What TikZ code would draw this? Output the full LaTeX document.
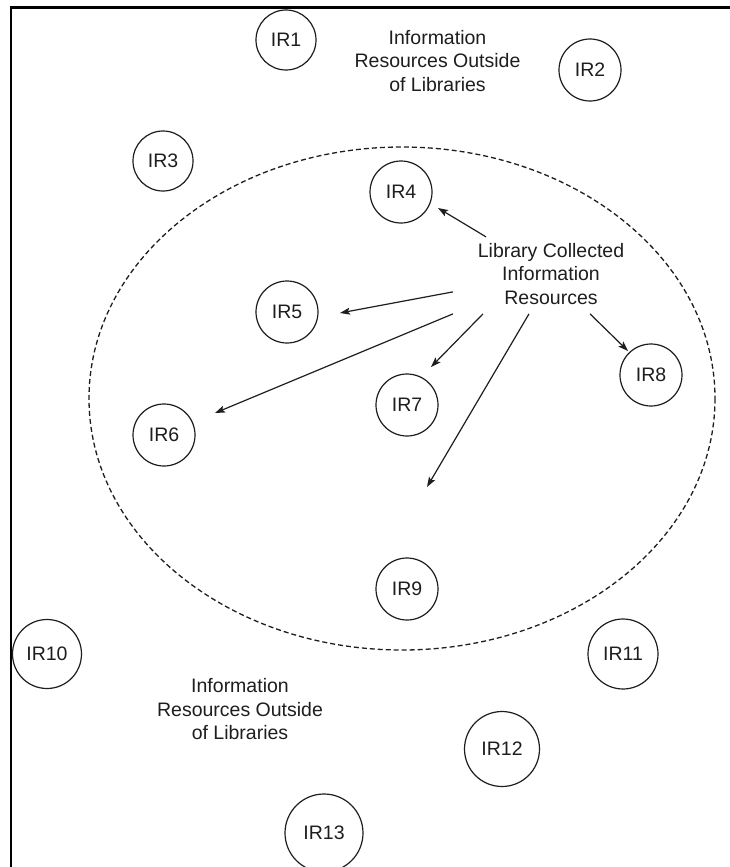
\documentclass[tikz,border=0pt]{standalone}
\usepackage{fontspec}
\setmainfont{Liberation Sans}
\usetikzlibrary{calc,arrows.meta}
\definecolor{ink}{HTML}{1E1E1E}
\tikzset{
  res/.style={circle,draw=ink,line width=1.2pt,inner sep=0pt,minimum size=#1,
    text=ink,font=\fontsize{19.5}{23.5}\selectfont},
  res/.default=62pt,
  caption/.style={align=center,inner sep=0pt,text=ink,
    font=\fontsize{19.5}{23.5}\selectfont},
  arr/.style={draw=ink,line width=1.2pt,-{Stealth[length=10pt,width=7pt,inset=2pt]}},
  boundary/.style={draw=ink,line width=1.3pt,dash pattern=on 5pt off 3pt},
  frame/.style={draw=black,line width=2.6pt}
}
\begin{document}
\begin{tikzpicture}[x=1pt,y=-1pt]
  \useasboundingbox (0,0) rectangle (730,867);
  \clip (0,0) rectangle (730,867);
  \fill[white] (0,0) rectangle (730,867);

  % page frame (only left and top edges fall inside the picture)
  \draw[frame] (11,900) -- (11,7.5) -- (760,7.5);

  % boundary of the library collection
  \draw[boundary] (402,398.5) ellipse [x radius=313, y radius=251.5];

  % information resources
  \node[res=60pt] (ir1) at (286,40) {IR1};
  \node[res] (ir2) at (590,70) {IR2};
  \node[res=60pt] (ir3) at (163,161) {IR3};
  \node[res] (ir4) at (401,192) {IR4};
  \node[res] (ir5) at (287,312) {IR5};
  \node[res] (ir6) at (164,435) {IR6};
  \node[res] (ir7) at (407,405) {IR7};
  \node[res] (ir8) at (651,375) {IR8};
  \node[res] (ir9) at (407,589) {IR9};
  \node[res=69pt] (ir10) at (47,654) {IR10};
  \node[res=70pt] (ir11) at (623,654) {IR11};
  \node[res=75pt] (ir12) at (502,749) {IR12};
  \node[res=78pt] (ir13) at (324,833) {IR13};

  % captions
  \node[caption,anchor=north] (outtop) at (437.5,30)
    {Information\\Resources Outside\\of Libraries};
  \node[caption,anchor=north] (outbot) at (240,678.5)
    {Information\\Resources Outside\\of Libraries};
  \node[caption,anchor=north] (lib) at (551,243)
    {Library Collected\\Information\\Resources};

  % arrow tips near each collected resource
  \coordinate (t4) at ($(ir4)+(37,16)$);
  \coordinate (t5) at ($(ir5)+(53,1)$);
  \coordinate (t6) at ($(ir6)+(51,-22)$);
  \coordinate (t7) at ($(ir7)+(24,-38)$);
  \coordinate (t8) at ($(ir8)+(-23,-24)$);
  \coordinate (t9) at ($(ir9)+(20,-102)$);

  % connectors from the library caption
  \draw[arr] ($(lib.center)+(-65,-37)$) -- (t4);
  \draw[arr] ($(lib.center)+(-98,18)$) -- (t5);
  \draw[arr] ($(lib.center)+(-98,40)$) -- (t6);
  \draw[arr] ($(lib.center)+(-68,40)$) -- (t7);
  \draw[arr] ($(lib.center)+(-22,40)$) -- (t9);
  \draw[arr] ($(lib.center)+(39,40)$) -- (t8);
\end{tikzpicture}
\end{document}
